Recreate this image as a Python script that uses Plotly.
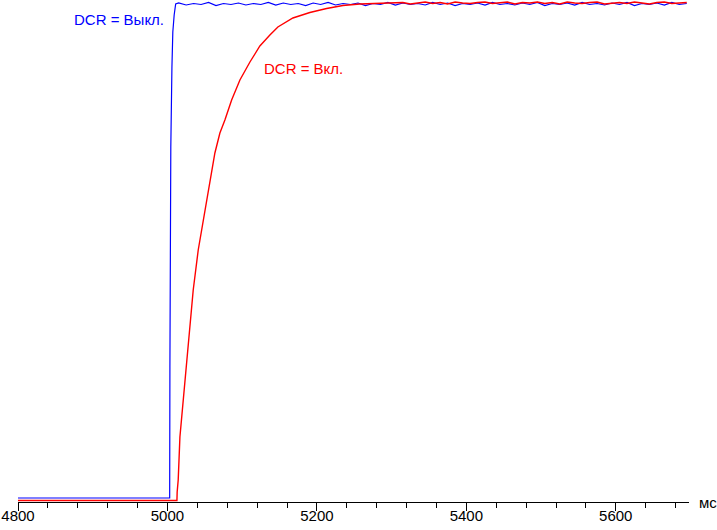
import plotly.graph_objects as go

# Time axis (ms) and brightness (% of max)
blue_t = [4800, 5003.0, 5003.3, 5004.5, 5006.0, 5007.2, 5009.0, 5011.0,
          5015, 5025, 5035, 5045, 5055, 5065, 5075, 5085, 5095, 5105,
          5115, 5125, 5135, 5145, 5155, 5165, 5175, 5185, 5195, 5205,
          5215, 5225, 5235, 5245, 5255, 5265, 5275, 5285, 5295, 5305,
          5315, 5325, 5335, 5345, 5355, 5365, 5375, 5385, 5395, 5405,
          5415, 5425, 5435, 5445, 5455, 5465, 5475, 5485, 5495, 5505,
          5515, 5525, 5535, 5545, 5555, 5565, 5575, 5585, 5595, 5605,
          5615, 5625, 5635, 5645, 5655, 5665, 5675, 5685, 5695]
blue_v = [0.8, 0.8, 27, 71, 87, 94, 97.4, 99.6,
          99.8, 99.4, 99.7, 99.5, 99.9, 99.3, 99.7, 99.5, 99.8, 99.4,
          99.7, 99.5, 99.9, 99.4, 99.8, 99.5, 99.7, 99.3, 99.8, 99.5,
          99.9, 99.4, 99.7, 99.5, 99.8, 99.3, 99.7, 99.5, 99.9, 99.4,
          99.8, 99.5, 99.7, 99.4, 99.9, 99.5, 99.8, 99.3, 99.7, 99.5,
          99.8, 99.4, 99.9, 99.5, 99.7, 99.4, 99.8, 99.5, 99.9, 99.3,
          99.7, 99.5, 99.8, 99.4, 99.9, 99.5, 99.7, 99.4, 99.8, 99.5,
          99.9, 99.3, 99.7, 99.5, 99.8, 99.4, 99.9, 99.5, 99.7]

red_t = [4800, 5012.7, 5013.0, 5014.4, 5016.7, 5021.1, 5025.7, 5030.1,
         5034.5, 5041.2, 5047.9, 5056.9, 5063.5, 5070.2, 5076.9, 5085.9,
         5097.0, 5110.4, 5123.7, 5137.1, 5147.8, 5167.9, 5190.6, 5213.0,
         5234.8, 5257.5, 5280.0, 5301.7,
         5315, 5325, 5335, 5345, 5355, 5365, 5375, 5385, 5395, 5405,
         5415, 5425, 5435, 5445, 5455, 5465, 5475, 5485, 5495, 5505,
         5515, 5525, 5535, 5545, 5555, 5565, 5575, 5585, 5595, 5605,
         5615, 5625, 5635, 5645, 5655, 5665, 5675, 5685, 5695]
red_v = [0.3, 0.3, 2.0, 4.4, 13.0, 20.4, 28.4, 35.0,
         42.4, 50.4, 56.4, 64.4, 69.8, 73.8, 76.4, 80.4,
         84.4, 88.0, 91.2, 93.4, 95.0, 96.8, 97.9, 98.7,
         99.3, 99.6, 99.7, 99.8,
         99.9, 99.6, 99.8, 100.0, 99.7, 99.9, 99.6, 100.0, 99.8, 99.7,
         99.9, 100.0, 99.7, 99.8, 100.0, 99.6, 99.9, 99.8, 100.0, 99.7,
         99.9, 99.6, 100.0, 99.8, 99.7, 99.9, 100.0, 99.6, 99.8, 99.9,
         99.7, 100.0, 99.8, 99.6, 99.9, 100.0, 99.7, 99.8, 99.9]

x_tick_vals = [4800, 5000, 5200, 5400, 5600]
x_tick_text = ["4800", "5000", "5200", "5400", "5600"]

FONT = "Liberation Sans, Arial, sans-serif"

fig = go.Figure()
fig.add_trace(go.Scatter(x=blue_t, y=blue_v, mode="lines",
                         line=dict(color="#0000FF", width=1.2),
                         hoverinfo="skip", showlegend=False))
fig.add_trace(go.Scatter(x=red_t, y=red_v, mode="lines",
                         line=dict(color="#FF0000", width=1.4),
                         hoverinfo="skip", showlegend=False))

fig.add_annotation(x=4998, y=96.5, xref="x", yref="y", text="DCR = Выкл.",
                   showarrow=False, xanchor="right", yanchor="middle",
                   font=dict(family=FONT, size=15, color="#0000FF"))
fig.add_annotation(x=5127, y=86.7, xref="x", yref="y", text="DCR = Вкл.",
                   showarrow=False, xanchor="left", yanchor="middle",
                   font=dict(family=FONT, size=15, color="#FF0000"))
fig.add_annotation(x=1, y=0, xref="paper", yref="paper", text="мс",
                   showarrow=False, xanchor="left", yanchor="middle",
                   xshift=8, font=dict(family=FONT, size=15, color="black"))

fig.update_layout(
    width=717, height=530,
    margin=dict(l=18, r=28, t=0, b=28),
    paper_bgcolor="white", plot_bgcolor="white",
    xaxis=dict(range=[4800, 5698], showgrid=False, zeroline=False,
               automargin=False,
               showline=True, linecolor="black", linewidth=1,
               tickmode="array", tickvals=x_tick_vals, ticktext=x_tick_text,
               ticks="outside", ticklen=8, tickcolor="black", tickwidth=1,
               ticklabelstandoff=-8,
               tickfont=dict(family=FONT, size=15, color="black"),
               minor=dict(dtick=40, tick0=4800, ticks="outside", ticklen=5,
                          tickcolor="black", tickwidth=1, showgrid=False)),
    yaxis=dict(range=[0, 100.4], visible=False, showgrid=False,
               zeroline=False, automargin=False),
)

fig.write_html("out.html",
               config={"displayModeBar": False, "staticPlot": True},
               post_script="document.body.style.margin='0';document.body.style.overflow='hidden';")
